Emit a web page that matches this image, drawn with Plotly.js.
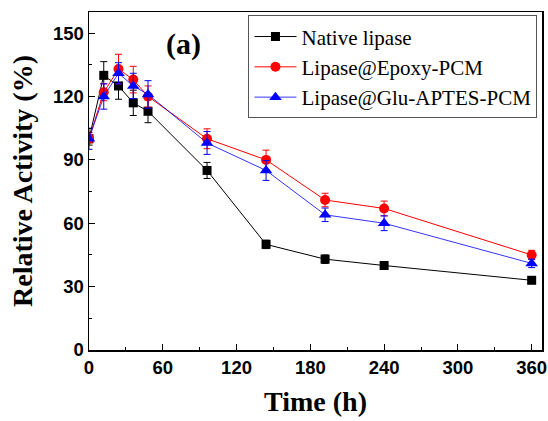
<!DOCTYPE html>
<html>
<head>
<meta charset="utf-8">
<script src="https://cdn.plot.ly/plotly-3.0.1.min.js"></script>
<style>html,body{margin:0;padding:0;background:#fff;}#chart{width:548px;height:421px;}</style>
</head>
<body>
<div id="chart"></div>
<script>
// Data
const timeHours = [0, 12, 24, 36, 48, 96, 144, 192, 240, 360];

const nativeName = "Native lipase";
const nativeValues = [100, 130, 125, 117, 113, 85, 50, 43, 40, 33];
const nativeErrors = [3, 6.5, 6.3, 6, 5.4, 3.8, 2, 2, 1.5, 1];

const epoxyName = "Lipase@Epoxy-PCM";
const epoxyValues = [100, 122, 133, 128, 120, 100, 90, 71, 67, 45];
const epoxyErrors = [2, 4, 7, 6.3, 5, 4.7, 4.6, 3.2, 3.5, 2.2];

const gluName = "Lipase@Glu-APTES-PCM";
const gluValues = [100, 120, 131, 125, 121, 98, 85, 64, 60, 41];
const gluErrors = [5, 6, 5, 6, 6.5, 5.4, 4.7, 3.2, 3.5, 2];

const xTickVals = [0, 60, 120, 180, 240, 300, 360];
const yTickVals = [0, 30, 60, 90, 120, 150];

function series(name, x, y, err, color, symbol, size, lw) {
  return {
    type: 'scatter', mode: 'lines+markers', name: name,
    x: x, y: y,
    line: {color: color, width: lw},
    marker: {color: color, symbol: symbol, size: size},
    error_y: {type: 'data', array: err, visible: true, color: color, thickness: 1, width: 3.5}
  };
}

const traces = [
  series(nativeName, timeHours, nativeValues, nativeErrors, '#000000', 'square', 9, 1),
  series(epoxyName, timeHours, epoxyValues, epoxyErrors, '#ff0000', 'circle', 10, 1),
  series(gluName, timeHours, gluValues, gluErrors, '#0000ff', 'triangle-up', 11, 0.8)
];

const tickFont = {family: 'Liberation Sans, Arial, sans-serif', size: 18.5, color: '#000', weight: 'bold'};
const titleFont = {family: 'Liberation Serif, Times New Roman, serif', size: 28, color: '#000', weight: 'bold'};

const layout = {
  width: 548, height: 421,
  margin: {l: 89, r: 6, t: 12, b: 71, autoexpand: false},
  paper_bgcolor: '#fff', plot_bgcolor: '#fff',
  showlegend: true,
  xaxis: {
    range: [0, 368.4], tickvals: xTickVals, ticktext: xTickVals.map(String),
    ticks: 'inside', ticklen: 6, tickwidth: 1.2, tickcolor: '#000',
    minor: {dtick: 30, tick0: 0, ticks: 'inside', ticklen: 3, tickwidth: 1, tickcolor: '#000'},
    showline: true, linecolor: '#000', linewidth: 1.5, mirror: true,
    showgrid: false, zeroline: false, tickfont: tickFont,
    title: {text: 'Time (h)', font: titleFont, standoff: 14}
  },
  yaxis: {
    range: [0, 160], tickvals: yTickVals, ticktext: yTickVals.map(String),
    ticks: 'inside', ticklen: 6, tickwidth: 1.2, tickcolor: '#000',
    minor: {dtick: 15, tick0: 0, ticks: 'inside', ticklen: 3, tickwidth: 1, tickcolor: '#000'},
    showline: true, linecolor: '#000', linewidth: 1.5, mirror: true,
    showgrid: false, zeroline: false, tickfont: tickFont,
    title: {text: 'Relative Activity (%)', font: titleFont, standoff: 12}
  },
  legend: {
    x: 0.99, y: 0.99, xanchor: 'right', yanchor: 'top',
    bgcolor: '#fff', bordercolor: '#555', borderwidth: 1,
    font: {family: 'Liberation Serif, Times New Roman, serif', size: 21, color: '#000'},
    tracegroupgap: 0, itemwidth: 42
  },
  annotations: [{
    text: '(a)', xref: 'paper', yref: 'paper', x: 0.208, y: 0.905,
    showarrow: false, xanchor: 'center', yanchor: 'middle',
    font: {family: 'Liberation Serif, Times New Roman, serif', size: 30, color: '#000', weight: 'bold'}
  }]
};

Plotly.newPlot('chart', traces, layout, {displayModeBar: false, staticPlot: true});
</script>
</body>
</html>
